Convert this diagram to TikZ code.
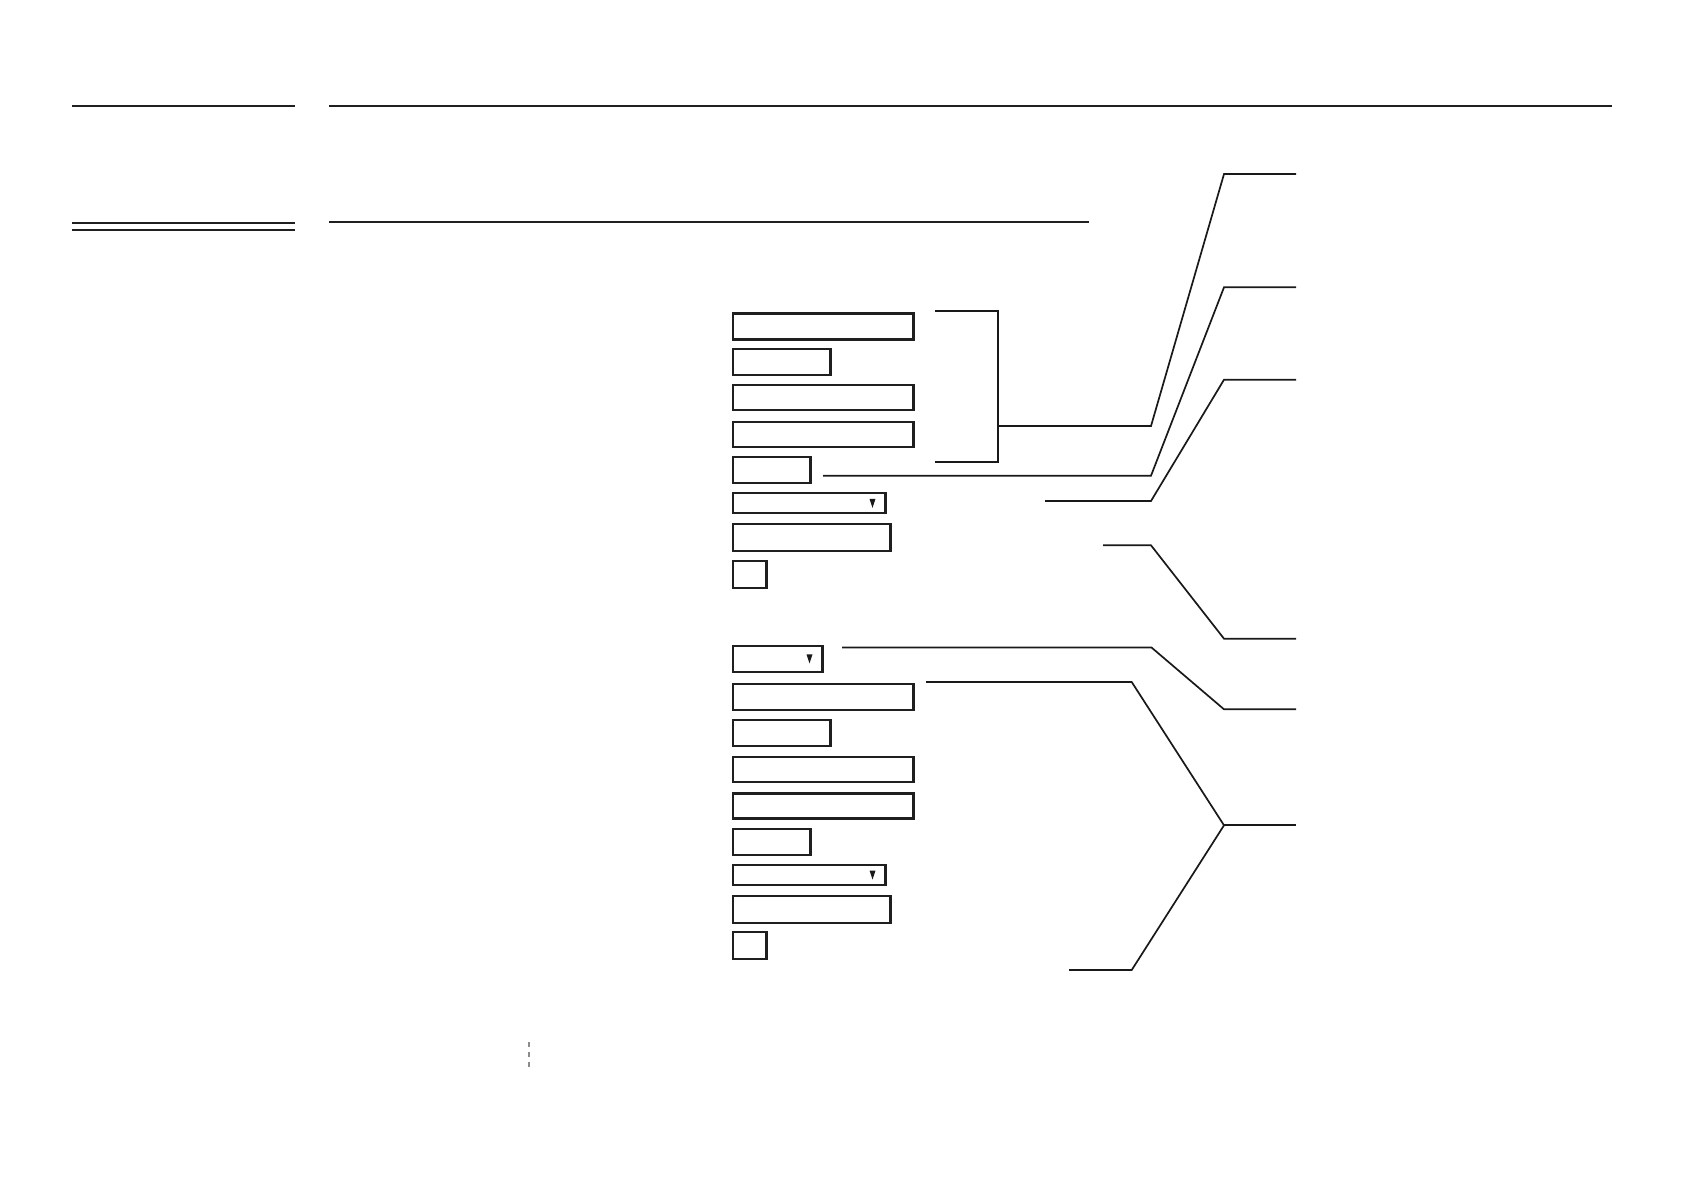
\documentclass[tikz,border=0pt]{standalone}
\usepackage{tikz}
\tikzset{field/.style={draw=black!88,rectangle,anchor=west,inner sep=0pt,outer sep=0pt,line width=2.3pt,minimum height=26pt}}
\tikzset{pick/.style={field,minimum height=20pt}}
\tikzset{callout/.style={draw=black!90,line width=1.7pt,line join=miter}}
\tikzset{rule/.style={draw=black!88,line width=2pt}}

\begin{document}
\begin{tikzpicture}[x=1pt,y=-1pt]
\useasboundingbox (0,0) rectangle (1685,1191);
% header rules
\coordinate (h1) at (72,105.7);   \coordinate (h2) at (295,105.7);
\coordinate (h3) at (329,105.7);  \coordinate (h4) at (1612,105.7);
\coordinate (h5) at (72,222.7);   \coordinate (h6) at (295,222.7);
\coordinate (h7) at (72,229.7);   \coordinate (h8) at (295,229.7);
\coordinate (h9) at (329,222);    \coordinate (h10) at (1089,222);
\draw[rule] (h1) -- (h2);
\draw[rule] (h3) -- (h4);
\draw[rule] (h5) -- (h6);
\draw[rule] (h7) -- (h8);
\draw[rule] (h9) -- (h10);
% first form
\node[field,minimum width=180.5pt] (f1) at (733,326.5) {};
\node[field,minimum width=97.5pt] (f2) at (733,362.3) {};
\node[field,minimum width=180.5pt,minimum height=25pt] (f3) at (733,397.8) {};
\node[field,minimum width=180.5pt,minimum height=25pt] (f4) at (733,434.7) {};
\node[field,minimum width=77.5pt] (f5) at (733,470) {};
\node[pick,minimum width=152.5pt] (d1) at (733,503.3) {};
\node[field,minimum width=157.5pt,minimum height=27pt] (f6) at (733,537.8) {};
\node[field,minimum width=33.5pt,minimum height=27pt] (f7) at (733,574.7) {};
% second form
\node[field,minimum width=89.5pt] (d2) at (733,658.8) {};
\node[field,minimum width=180.5pt] (g1) at (733,697.3) {};
\node[field,minimum width=97.5pt] (g2) at (733,733.3) {};
\node[field,minimum width=180.5pt,minimum height=25pt] (g3) at (733,769.3) {};
\node[field,minimum width=180.5pt,minimum height=25pt] (g4) at (733,806) {};
\node[field,minimum width=77.5pt] (g5) at (733,841.8) {};
\node[pick,minimum width=152.5pt] (d3) at (733,875) {};
\node[field,minimum width=157.5pt,minimum height=27pt] (g6) at (733,909.3) {};
\node[field,minimum width=33.5pt,minimum height=27pt] (g7) at (733,945.8) {};
% drop-down marks
\fill[black!90] (d1.east) ++(-16,-4.5) -- ++(6,0) -- ++(-3,9) -- cycle;
\fill[black!90] (d2.east) ++(-16,-4.5) -- ++(6,0) -- ++(-3,9) -- cycle;
\fill[black!90] (d3.east) ++(-16,-4.5) -- ++(6,0) -- ++(-3,9) -- cycle;
% callouts
\coordinate (b1) at (935,311);    \coordinate (b2) at (935,462);
\coordinate (bm) at (998,426);    \coordinate (t1) at (1296,174);
\coordinate (s2) at (823,475.7);  \coordinate (t2) at (1296,287.3);
\coordinate (s3) at (1045,501);   \coordinate (t3) at (1296,379.7);
\coordinate (s4) at (1103,545.3); \coordinate (t4) at (1296,638.7);
\coordinate (s5) at (842,647.5);  \coordinate (t5) at (1296,709.3);
\coordinate (s6) at (926,682);    \coordinate (e6) at (1069,970);
\coordinate (t6) at (1296,825.3);
\draw[callout] (b1) -| (998,462) -- (b2);
\draw[callout] (bm) -- (1151,426) -- (1224,174) -- (t1);
\draw[callout] (s2) -- (1151,475.7) -- (1224,287.3) -- (t2);
\draw[callout] (s3) -- (1151,501) -- (1224,379.7) -- (t3);
\draw[callout] (s4) -- (1151,545.3) -- (1224,638.7) -- (t4);
\draw[callout] (s5) -- (1151.5,647.5) -- (1224,709.3) -- (t5);
\draw[callout] (s6) -- (1131.7,682) -- (1224,825.3) -- (1131.7,970) -- (e6);
\draw[callout] (1224,825.3) -- (t6);
% marker
\coordinate (m1) at (529,1042);   \coordinate (m2) at (529,1067);
\draw[black!45,line width=1.3pt,dash pattern=on 5pt off 5pt] (m1) -- (m2);
\end{tikzpicture}
\end{document}
